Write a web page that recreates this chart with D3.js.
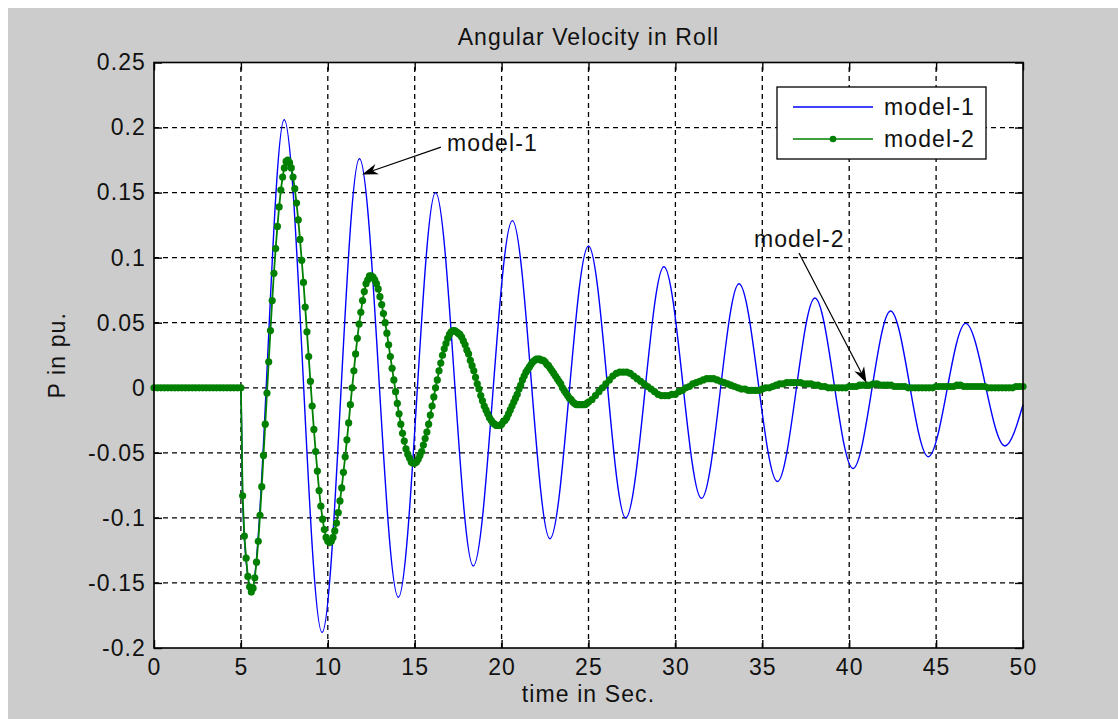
<!DOCTYPE html>
<html>
<head>
<meta charset="utf-8">
<script src="https://cdn.jsdelivr.net/npm/d3@7"></script>
<style>
  html, body { margin: 0; padding: 0; background: #fff; }
  svg { display: block; }
  text { font-family: "Liberation Sans", Arial, sans-serif; font-size: 23px; letter-spacing: 1.1px; fill: #111; }
</style>
</head>
<body>
<div id="chart"></div>
<script>
// ---- data ----
const xTicks = [0, 5, 10, 15, 20, 25, 30, 35, 40, 45, 50];
const yTicks = [-0.2, -0.15, -0.1, -0.05, 0, 0.05, 0.1, 0.15, 0.2, 0.25];

// model-1: turning points of the blue trace (time in s, value in pu)
const model1Time = [0, 5, 5.1, 5.3, 5.6, 7.49, 9.67, 11.82, 14.06, 16.2, 18.37, 20.62, 22.78, 25.0,
  27.14, 29.34, 31.5, 33.66, 35.87, 38.03, 40.22, 42.38, 44.55, 46.7, 48.96, 50];
const model1Value = [0, 0, -0.085, -0.133, -0.155, 0.206, -0.188, 0.176, -0.161, 0.150, -0.137, 0.1285, -0.116, 0.109,
  -0.100, 0.093, -0.085, 0.080, -0.072, 0.069, -0.062, 0.059, -0.053, 0.0495, -0.0447, -0.013];

// model-2: sampled trace (one value per step)
const model2FlatStart = 0, model2FlatStep = 0.2;
const model2Flat = [0, 0, 0, 0, 0, 0, 0, 0, 0, 0, 0, 0, 0, 0, 0, 0, 0, 0, 0, 0, 0, 0, 0, 0, 0, 0];

const model2EarlyStart = 5.1, model2EarlyStep = 0.1;
const model2Early = [
  -0.083, -0.114, -0.131, -0.145, -0.153, -0.157, -0.154, -0.146, -0.134, -0.118,
  -0.098, -0.076, -0.052, -0.028, -0.004, 0.020, 0.044, 0.067, 0.088, 0.107,
  0.124, 0.139, 0.152, 0.162, 0.169, 0.174, 0.175, 0.173, 0.169, 0.162,
  0.153, 0.142, 0.129, 0.114, 0.098, 0.081, 0.062, 0.043, 0.024, 0.005,
  -0.014, -0.032, -0.049, -0.064, -0.079, -0.091, -0.101, -0.109, -0.115, -0.118,
  -0.119, -0.118, -0.115, -0.110, -0.104, -0.096, -0.087, -0.077, -0.065, -0.053,
  -0.040, -0.027, -0.013, 0.000, 0.013, 0.026, 0.038, 0.049, 0.058, 0.067,
  0.074, 0.080, 0.083, 0.086, 0.086, 0.085, 0.083, 0.080, 0.076, 0.070,
  0.064, 0.057, 0.050, 0.042, 0.033, 0.024, 0.015, 0.006, -0.003, -0.012,
  -0.020, -0.028, -0.035, -0.041, -0.047, -0.051, -0.054, -0.057, -0.058, -0.058,
  -0.057, -0.055, -0.052, -0.049, -0.044, -0.039, -0.034, -0.028, -0.021, -0.014,
  -0.007, 0.000, 0.006, 0.013, 0.019, 0.025, 0.030, 0.034, 0.038, 0.041,
  0.043, 0.044, 0.044, 0.043, 0.042, 0.041, 0.039, 0.036, 0.033, 0.029,
  0.026, 0.021, 0.017, 0.013, 0.008, 0.003, -0.001, -0.006, -0.010, -0.014,
  -0.017, -0.020, -0.023, -0.025, -0.027, -0.028, -0.029, -0.029, -0.029, -0.028,
  -0.026, -0.025, -0.023, -0.020, -0.017, -0.014, -0.011, -0.008, -0.005, -0.001,
  0.002, 0.006, 0.009, 0.012, 0.014, 0.016, 0.018, 0.020, 0.021, 0.022,
  0.022, 0.022, 0.021, 0.021, 0.020, 0.018, 0.017, 0.015, 0.013, 0.011,
  0.009, 0.007, 0.005, 0.003, 0.000, -0.002, -0.004, -0.006, -0.008, -0.009,
  -0.011, -0.012, -0.013, -0.013, -0.013, -0.013, -0.013, -0.013, -0.012, -0.011
];

const model2LateStart = 25.2, model2LateStep = 0.2;
const model2Late = [
  -0.009, -0.006, -0.003, 0.000, 0.003, 0.006, 0.009, 0.011, 0.012, 0.012,
  0.012, 0.011, 0.009, 0.007, 0.005, 0.003, 0.001, -0.001, -0.003, -0.005,
  -0.006, -0.006, -0.006, -0.005, -0.005, -0.003, -0.002, 0.000, 0.001, 0.003,
  0.004, 0.005, 0.006, 0.007, 0.007, 0.007, 0.006, 0.005, 0.004, 0.003,
  0.002, 0.001, 0.000, -0.001, -0.001, -0.002, -0.002, -0.002, -0.002, -0.001,
  0.000, 0.000, 0.001, 0.002, 0.003, 0.003, 0.004, 0.004, 0.004, 0.004,
  0.004, 0.003, 0.003, 0.003, 0.002, 0.002, 0.001, 0.001, 0.000, 0.000,
  0.000, 0.000, 0.000, 0.000, 0.001, 0.001, 0.001, 0.002, 0.002, 0.002,
  0.002, 0.003, 0.003, 0.002, 0.002, 0.002, 0.002, 0.001, 0.001, 0.001,
  0.001, 0.000, 0.000, 0.000, 0.000, 0.000, 0.000, 0.000, 0.000, 0.001,
  0.001, 0.001, 0.001, 0.001, 0.001, 0.002, 0.002, 0.001, 0.001, 0.001,
  0.001, 0.001, 0.001, 0.001, 0.000, 0.000, 0.000, 0.000, 0.000, 0.000,
  0.000, 0.000, 0.001, 0.001, 0.001
];

const seriesNames = ["model-1", "model-2"];

// ---- layout ----
const width = 1118, height = 719;
const margin = {top: 62.5, right: 95, bottom: 71, left: 154};
const blue = "#0000ff", green = "#008000";
const markerR = 3.6;

const svg = d3.select("#chart")
  .append("svg")
  .attr("width", width)
  .attr("height", height);

// figure background (grey, white strip at top/left like the screenshot)
svg.append("rect")
  .attr("x", 8).attr("y", 8)
  .attr("width", width - 8).attr("height", height - 8)
  .attr("fill", "#cccccc");

const x = d3.scaleLinear().domain([0, 50]).range([margin.left, width - margin.right]);
const y = d3.scaleLinear().domain([-0.2, 0.25]).range([height - margin.bottom, margin.top]);

svg.append("rect")
  .attr("x", x(0)).attr("y", y(0.25))
  .attr("width", x(50) - x(0)).attr("height", y(-0.2) - y(0.25))
  .attr("fill", "#fff");

// dotted grid
const grid = svg.append("g").attr("stroke", "#000").attr("stroke-width", 1.3).attr("stroke-dasharray", "5,4");
grid.selectAll(".gx")
  .data(xTicks.slice(1, -1))
  .join("line")
    .attr("x1", d => x(d)).attr("x2", d => x(d))
    .attr("y1", y(-0.2)).attr("y2", y(0.25));
grid.selectAll(".gy")
  .data(yTicks.slice(1, -1))
  .join("line")
    .attr("class", "gy")
    .attr("x1", x(0)).attr("x2", x(50))
    .attr("y1", d => y(d)).attr("y2", d => y(d));

// axes, MATLAB style ticks pointing inwards on all four sides
const fmt = d => String(d);
const styleAxis = g => {
  g.select(".domain").remove();
  g.selectAll(".tick line").attr("stroke", "#000").attr("stroke-width", 1.4);
};

svg.append("g")
  .attr("transform", `translate(0,${y(-0.2)})`)
  .call(d3.axisBottom(x).tickValues(xTicks).tickSize(-8).tickPadding(11).tickFormat(fmt))
  .call(styleAxis);

svg.append("g")
  .attr("transform", `translate(0,${y(0.25)})`)
  .call(d3.axisTop(x).tickValues(xTicks).tickSize(-8).tickFormat(""))
  .call(styleAxis);

svg.append("g")
  .attr("transform", `translate(${x(0)},0)`)
  .call(d3.axisLeft(y).tickValues(yTicks).tickSize(-8).tickPadding(8).tickFormat(fmt))
  .call(styleAxis);

svg.append("g")
  .attr("transform", `translate(${x(50)},0)`)
  .call(d3.axisRight(y).tickValues(yTicks).tickSize(-8).tickFormat(""))
  .call(styleAxis);

// ---- series ----
const model1 = model1Time.map((t, i) => ({t: t, v: model1Value[i]}));
const model2 = [].concat(
  model2Flat.map((v, i) => ({t: model2FlatStart + i * model2FlatStep, v: v})),
  model2Early.map((v, i) => ({t: model2EarlyStart + i * model2EarlyStep, v: v})),
  model2Late.map((v, i) => ({t: model2LateStart + i * model2LateStep, v: v}))
);

const smoothLine = d3.line().x(d => x(d.t)).y(d => y(d.v)).curve(d3.curveMonotoneX);
const straightLine = d3.line().x(d => x(d.t)).y(d => y(d.v));

svg.append("path")
  .datum(model1)
  .attr("d", smoothLine)
  .attr("fill", "none")
  .attr("stroke", blue)
  .attr("stroke-width", 1.4);

svg.append("path")
  .datum(model2)
  .attr("d", straightLine)
  .attr("fill", "none")
  .attr("stroke", green)
  .attr("stroke-width", 1.8);

svg.append("g")
  .selectAll("circle")
  .data(model2)
  .join("circle")
    .attr("cx", d => x(d.t))
    .attr("cy", d => y(d.v))
    .attr("r", markerR)
    .attr("fill", green);

// axes box
svg.append("rect")
  .attr("x", x(0)).attr("y", y(0.25))
  .attr("width", x(50) - x(0)).attr("height", y(-0.2) - y(0.25))
  .attr("fill", "none")
  .attr("stroke", "#000")
  .attr("stroke-width", 1.6);

// ---- titles ----
svg.append("text")
  .attr("x", (x(0) + x(50)) / 2)
  .attr("y", 45)
  .attr("text-anchor", "middle")
  .text("Angular Velocity in Roll");

svg.append("text")
  .attr("x", (x(0) + x(50)) / 2)
  .attr("y", 702)
  .attr("text-anchor", "middle")
  .text("time in Sec.");

svg.append("text")
  .attr("transform", `translate(65,${(y(-0.2) + y(0.25)) / 2}) rotate(-90)`)
  .attr("text-anchor", "middle")
  .text("P in pu.");

// ---- legend ----
const legend = svg.append("g").attr("transform", "translate(777,87)");
legend.append("rect")
  .attr("width", 209).attr("height", 72)
  .attr("fill", "#fff").attr("stroke", "#000").attr("stroke-width", 1.3);

const rows = legend.selectAll(".row")
  .data(seriesNames)
  .join("g")
    .attr("transform", (d, i) => `translate(0,${20 + i * 32})`);

rows.append("line")
  .attr("x1", 16).attr("x2", 96)
  .attr("stroke", (d, i) => i === 0 ? blue : green)
  .attr("stroke-width", 1.5);

rows.filter((d, i) => i === 1)
  .append("circle")
  .attr("cx", 56).attr("r", 3.3).attr("fill", green);

rows.append("text")
  .attr("x", 107).attr("y", 8)
  .text(d => d);

// ---- callouts with arrows (positions in data units) ----
const callouts = [
  {label: "model-1", textT: 16.86, textV: 0.182, fromT: 16.51, fromV: 0.185, toT: 11.97, toV: 0.164},
  {label: "model-2", textT: 34.52, textV: 0.108, fromT: 37.11, fromV: 0.1036, toT: 41.0, toV: 0.0037}
];

const arrowLen = 16, arrowHalf = 5.5;
callouts.forEach(c => {
  const x1 = x(c.fromT), y1 = y(c.fromV), x2 = x(c.toT), y2 = y(c.toV);
  const len = Math.hypot(x2 - x1, y2 - y1);
  const ux = (x2 - x1) / len, uy = (y2 - y1) / len;
  const nx = -uy, ny = ux;
  const bx = x2 - ux * arrowLen, by = y2 - uy * arrowLen;
  const notchX = x2 - ux * arrowLen * 0.7, notchY = y2 - uy * arrowLen * 0.7;

  svg.append("line")
    .attr("x1", x1).attr("y1", y1)
    .attr("x2", notchX).attr("y2", notchY)
    .attr("stroke", "#000").attr("stroke-width", 1.2);

  svg.append("path")
    .attr("d", `M${x2},${y2}L${bx + nx * arrowHalf},${by + ny * arrowHalf}L${notchX},${notchY}L${bx - nx * arrowHalf},${by - ny * arrowHalf}Z`)
    .attr("fill", "#000");

  svg.append("text")
    .attr("x", x(c.textT))
    .attr("y", y(c.textV))
    .text(c.label);
});
</script>
</body>
</html>
